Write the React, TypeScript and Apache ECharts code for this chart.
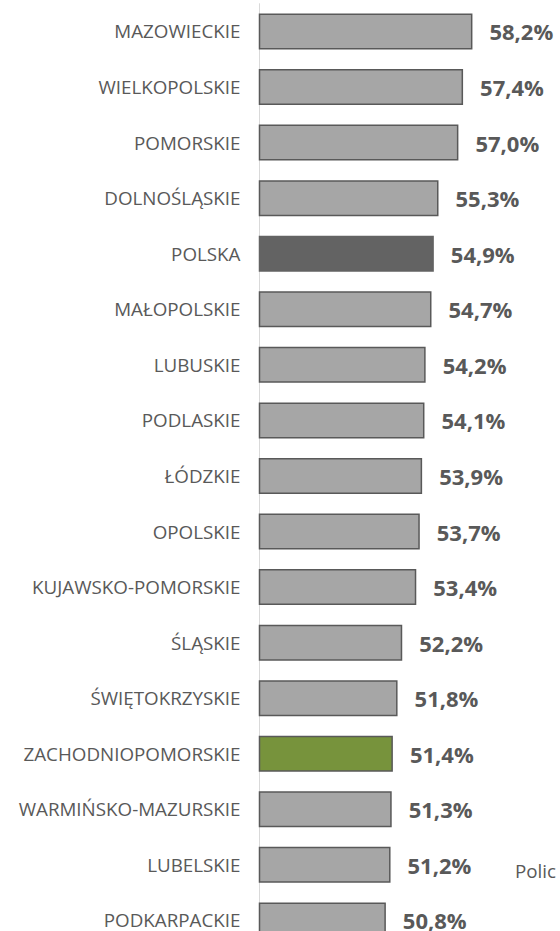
import React, { useEffect, useRef } from "react";
import * as echarts from "echarts";

const categories = [
  "MAZOWIECKIE",
  "WIELKOPOLSKIE",
  "POMORSKIE",
  "DOLNOŚLĄSKIE",
  "POLSKA",
  "MAŁOPOLSKIE",
  "LUBUSKIE",
  "PODLASKIE",
  "ŁÓDZKIE",
  "OPOLSKIE",
  "KUJAWSKO-POMORSKIE",
  "ŚLĄSKIE",
  "ŚWIĘTOKRZYSKIE",
  "ZACHODNIOPOMORSKIE",
  "WARMIŃSKO-MAZURSKIE",
  "LUBELSKIE",
  "PODKARPACKIE",
];
const values = [58.2, 57.4, 57.0, 55.3, 54.9, 54.7, 54.2, 54.1, 53.9, 53.7, 53.4, 52.2, 51.8, 51.4, 51.3, 51.2, 50.8];
const highlightNational = "POLSKA";
const highlightRegion = "ZACHODNIOPOMORSKIE";
const sideText = "Polic";

export default function App() {
  const ref = useRef<HTMLDivElement>(null);
  useEffect(() => {
    if (!ref.current) return;
    const chart = echarts.init(ref.current, null, { renderer: "svg" });
    const data = categories.map((c, i) => {
      let color = "#a6a6a6";
      let border = "#595959";
      if (c === highlightNational) {
        color = "#636363";
        border = "#636363";
      } else if (c === highlightRegion) {
        color = "#77933c";
      }
      return { value: values[i], itemStyle: { color, borderColor: border, borderWidth: 1.5 } };
    });
    chart.setOption({
      animation: false,
      grid: {
        left: 259.5,
        top: 3.7,
        width: 234,
        height: 944.5,
        containLabel: false,
        outerBoundsMode: "none",
      },
      xAxis: {
        type: "value",
        min: 40,
        max: 60,
        show: false,
      },
      yAxis: {
        type: "category",
        inverse: true,
        data: categories,
        axisLine: { show: true, lineStyle: { color: "#d9d9d9", width: 1 } },
        axisTick: { show: false },
        axisLabel: {
          color: "#595959",
          fontSize: 18.8,
          lineHeight: 16,
          fontFamily: "Open Sans",
          margin: 19,
        },
      },
      series: [
        {
          type: "bar",
          data,
          barWidth: 36,
          label: {
            show: true,
            position: "right",
            distance: 17,
            color: "#595959",
            fontSize: 22,
            lineHeight: 18,
            fontWeight: "bold",
            fontFamily: "Open Sans",
            formatter: (p: any) => p.value.toFixed(1).replace(".", ",") + "%",
          },
        },
      ],
      graphic: [
        {
          type: "text",
          left: 515,
          top: 861,
          style: { text: sideText, fill: "#595959", fontSize: 18.8, fontFamily: "Open Sans" },
        },
      ],
    });
    return () => chart.dispose();
  }, []);
  return (
    <div
      ref={ref}
      style={{ position: "fixed", left: 0, top: 0, width: 560, height: 931, background: "#fff" }}
    />
  );
}
